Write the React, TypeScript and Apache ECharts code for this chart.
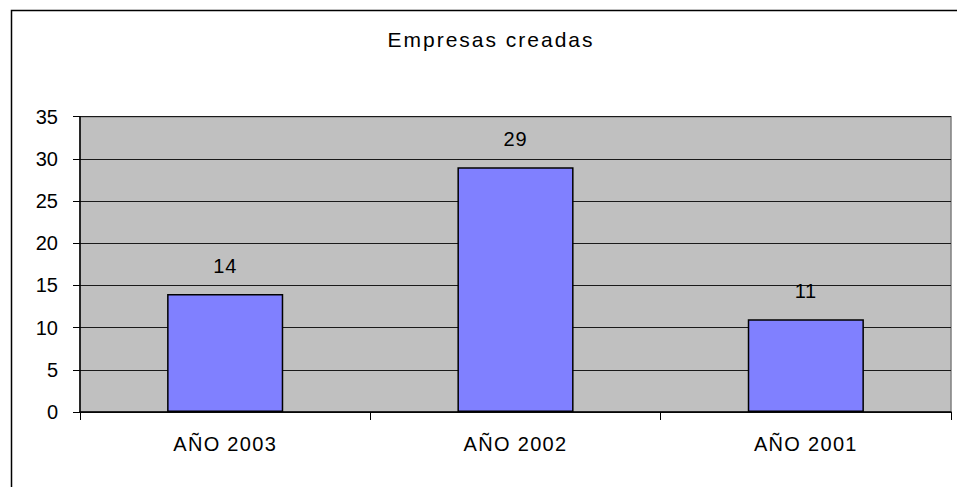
import React, { useEffect, useRef } from "react";
import * as echarts from "echarts";

const title = "Empresas creadas";
const categories = ["AÑO 2003", "AÑO 2002", "AÑO 2001"];
const values = [14, 29, 11];
const yMin = 0;
const yMax = 35;
const yStep = 5;

const FONT = "'Liberation Sans', Arial, sans-serif";

export default function App() {
  const ref = useRef<HTMLDivElement>(null);
  useEffect(() => {
    document.body.style.margin = "0";
    const chart = echarts.init(ref.current!, null, { renderer: "svg" });
    chart.setOption({
      animation: false,
      backgroundColor: "#ffffff",
      textStyle: { fontFamily: FONT },
      graphic: [
        {
          type: "rect",
          shape: { x: 11.5, y: 10.5, width: 1200, height: 1000 },
          style: { fill: "none", stroke: "#000000", lineWidth: 1.5 },
          silent: true,
          z: 100,
        },
        {
          type: "text",
          x: 491,
          y: 39.5,
          style: {
            text: title,
            fontFamily: FONT,
            fontSize: 21,
            fill: "#000000",
            align: "center",
            verticalAlign: "middle",
          },
        },
      ],
      grid: {
        left: 80,
        right: 6,
        top: 116.7,
        bottom: 75,
        show: true,
        backgroundColor: "#C0C0C0",
        borderColor: "#808080",
        borderWidth: 1.5,
      },
      xAxis: {
        type: "category",
        data: categories,
        boundaryGap: true,
        axisLine: { show: true, lineStyle: { color: "#000000", width: 1.5 } },
        axisTick: { show: true, length: 8, inside: false, lineStyle: { color: "#000000" } },
        axisLabel: { color: "#000000", fontSize: 20, fontFamily: FONT, margin: 22 },
        splitLine: { show: false },
      },
      yAxis: {
        type: "value",
        min: yMin,
        max: yMax,
        interval: yStep,
        axisLine: { show: true, lineStyle: { color: "#000000", width: 1.5 } },
        axisTick: { show: true, length: 7, inside: false, lineStyle: { color: "#000000" } },
        axisLabel: { color: "#000000", fontSize: 20, fontFamily: FONT, margin: 22 },
        splitLine: { show: true, lineStyle: { color: "#1a1a1a", width: 1 } },
      },
      series: [
        {
          type: "bar",
          data: values,
          barWidth: "40%",
          itemStyle: { color: "#8080FF", borderColor: "#000000", borderWidth: 1.5 },
          label: {
            show: true,
            position: "top",
            distance: 18,
            color: "#000000",
            fontSize: 20,
            fontFamily: FONT,
          },
        },
      ],
    });
    // widen tracking of the title and category labels, as in the reference
    const texts = ref.current!.querySelectorAll("text");
    texts.forEach((t) => {
      const s = (t.textContent || "").trim();
      if (s === title) {
        (t as SVGTextElement).style.letterSpacing = "2px";
      } else if (categories.includes(s)) {
        (t as SVGTextElement).style.letterSpacing = "1.3px";
      } else if (/^\d+$/.test(s) && values.includes(Number(s))) {
        (t as SVGTextElement).style.letterSpacing = "0.8px";
      }
    });
    return () => chart.dispose();
  }, []);
  return (
    <div
      ref={ref}
      style={{ position: "absolute", left: 0, top: 0, width: 957, height: 487 }}
    />
  );
}
